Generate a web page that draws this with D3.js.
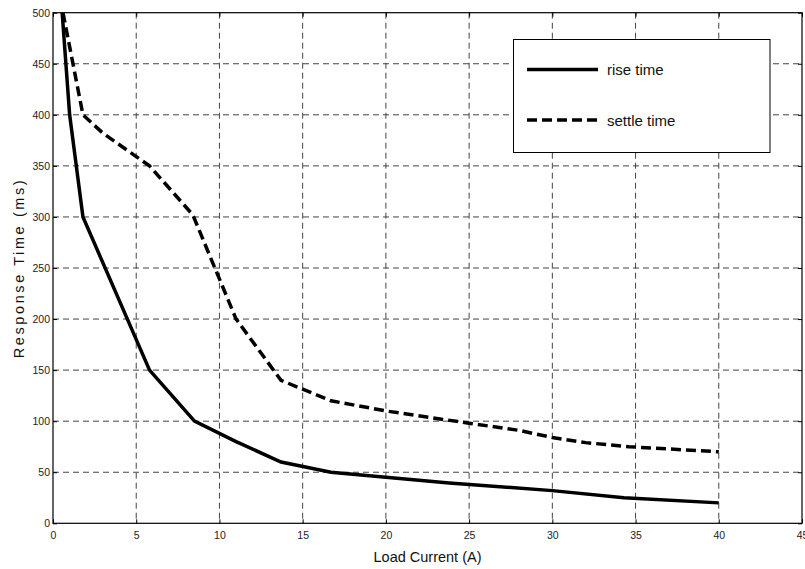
<!DOCTYPE html>
<html><head><meta charset="utf-8">
<script src="https://cdn.jsdelivr.net/npm/d3@7"></script>
<style>body{margin:0;background:#fff}svg{display:block}text{font-family:"Liberation Sans",Arial,sans-serif}</style>
</head><body>
<script>
const riseX = [0.55, 1.0, 1.8, 5.8, 8.5, 11.0, 13.7, 16.7, 20.0, 23.8, 30.0, 34.3, 40.0];
const riseY = [500, 400, 300, 150, 100, 80, 60, 50, 45, 39.5, 32, 25, 20];
const settleX = [0.6, 1.8, 3.0, 5.8, 8.4, 11.0, 13.7, 16.7, 20.0, 25.0, 28.0, 30.0, 32.0, 34.6, 40.0];
const settleY = [500, 400, 382, 350, 302, 200, 140, 120, 110, 98, 91, 84, 79, 75, 70];
const xTicks = [0,5,10,15,20,25,30,35,40,45];
const yTicks = [0,50,100,150,200,250,300,350,400,450,500];
const seriesNames = ["rise time","settle time"];

const W=805,H=569;
const svg=d3.select("body").append("svg").attr("width",W).attr("height",H);
const L=53,R=802,T=12.7,B=523.3;
const x=d3.scaleLinear().domain([0,45]).range([L,R]);
const y=d3.scaleLinear().domain([0,500]).range([B,T]);

// grid
const g=svg.append("g");
g.selectAll(".vg").data(xTicks.filter(d=>d>0&&d<45)).enter().append("line")
 .attr("x1",d=>x(d)).attr("x2",d=>x(d)).attr("y1",T).attr("y2",B)
 .attr("stroke","#444").attr("stroke-width",1).attr("stroke-dasharray","6,4");
g.selectAll(".hg").data(yTicks.filter(d=>d>0&&d<500)).enter().append("line")
 .attr("x1",L).attr("x2",R).attr("y1",d=>y(d)).attr("y2",d=>y(d))
 .attr("stroke","#444").attr("stroke-width",1).attr("stroke-dasharray","6,4");

// axes
const fmt=d3.format("d");
const ax=svg.append("g").attr("transform",`translate(0,${B})`)
 .call(d3.axisBottom(x).tickValues(xTicks).tickFormat(fmt).tickSizeInner(-4).tickSizeOuter(0).tickPadding(8));
const ay=svg.append("g").attr("transform",`translate(${L},0)`)
 .call(d3.axisLeft(y).tickValues(yTicks).tickFormat(fmt).tickSizeInner(-4).tickSizeOuter(0).tickPadding(3));
const axT=svg.append("g").attr("transform",`translate(0,${T})`)
 .call(d3.axisTop(x).tickValues(xTicks).tickFormat("").tickSizeInner(-4).tickSizeOuter(0));
const ayR=svg.append("g").attr("transform",`translate(${R},0)`)
 .call(d3.axisRight(y).tickValues(yTicks).tickFormat("").tickSizeInner(-4).tickSizeOuter(0));
[ax,ay,axT,ayR].forEach(a=>{a.select(".domain").remove();a.selectAll("line").attr("stroke","#000");
 a.selectAll("text").attr("font-size","10.5px").attr("fill","#222").style("font-family","'Liberation Sans',Arial,sans-serif");});
svg.append("rect").attr("x",L).attr("y",T).attr("width",R-L).attr("height",B-T)
 .attr("fill","none").attr("stroke","#000").attr("stroke-width",1.2);

// lines
const line=d3.line().x(d=>x(d[0])).y(d=>y(d[1]));
const clip=svg.append("clipPath").attr("id","c").append("rect").attr("x",L).attr("y",T).attr("width",R-L).attr("height",B-T);
svg.append("path").datum(riseX.map((v,i)=>[v,riseY[i]])).attr("d",line)
 .attr("fill","none").attr("stroke","#000").attr("stroke-width",3.5).attr("clip-path","url(#c)");
svg.append("path").datum(settleX.map((v,i)=>[v,settleY[i]])).attr("d",line)
 .attr("fill","none").attr("stroke","#000").attr("stroke-width",3.5).attr("stroke-dasharray","10,5").attr("clip-path","url(#c)");

// legend
svg.append("rect").attr("x",513.5).attr("y",39.5).attr("width",256.5).attr("height",113)
 .attr("fill","#fff").attr("stroke","#000").attr("stroke-width",1);
const ly=[69.5,120];
seriesNames.forEach((n,i)=>{
 svg.append("line").attr("x1",527).attr("x2",598).attr("y1",ly[i]).attr("y2",ly[i])
  .attr("stroke","#000").attr("stroke-width",3.5).attr("stroke-dasharray",i?"10,5":null);
 svg.append("text").attr("x",607).attr("y",ly[i]+5.5).attr("font-size","15px").attr("fill","#111").text(n);
});

// axis titles
svg.append("text").attr("x",(L+R)/2).attr("y",562).attr("text-anchor","middle")
 .attr("font-size","14.5px").attr("fill","#111").text("Load Current (A)");
svg.append("text").attr("transform",`translate(24,${(T+B)/2}) rotate(-90)`).attr("text-anchor","middle")
 .attr("font-size","14.5px").attr("letter-spacing","2.6px").attr("fill","#111").text("Response Time (ms)");
</script>
</body></html>
